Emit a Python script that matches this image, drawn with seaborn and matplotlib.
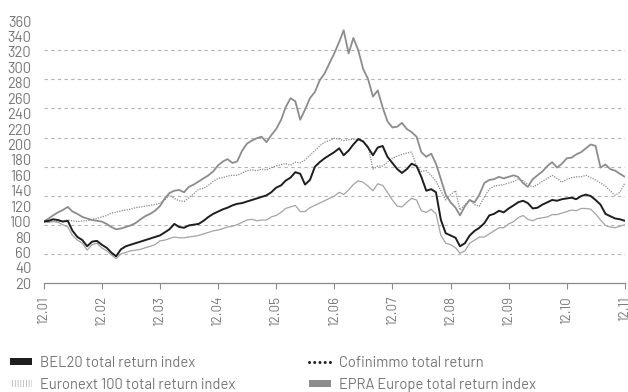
import numpy as np
import pandas as pd
import matplotlib
matplotlib.use("Agg")
import matplotlib.pyplot as plt
import seaborn as sns
from matplotlib.lines import Line2D
from matplotlib.patches import Patch
from matplotlib.ticker import FixedLocator

# Monthly index levels, December 2001 = 100, through December 2011
bel20 = [
    100, 101, 103, 102, 100, 101, 88, 80, 76, 68, 74, 75, 70,
    66, 60, 55, 64, 68, 70, 72, 74, 76, 78, 80, 82,
    86, 90, 97, 93, 92, 95, 96, 97, 101, 106, 110, 113,
    116, 118, 121, 123, 124, 126, 128, 130, 132, 134, 138, 144,
    147, 153, 157, 164, 162, 148, 154, 171, 177, 182, 186, 190,
    195, 186, 192, 200, 207, 204, 196, 186, 196, 198, 184, 176,
    168, 163, 168, 175, 172, 158, 140, 142, 138, 102, 85, 82,
    79, 68, 72, 82, 88, 92, 98, 108, 110, 114, 112, 117,
    121, 125, 127, 124, 117, 118, 122, 125, 128, 127, 129, 130,
    131, 129, 133, 135, 133, 128, 122, 110, 107, 104, 103, 101,
]
euronext100 = [
    100, 99, 100, 99, 96, 93, 82, 76, 72, 63, 70, 72, 66,
    62, 57, 52, 58, 60, 62, 63, 64, 66, 68, 70, 75,
    76, 78, 80, 79, 79, 80, 81, 82, 84, 86, 88, 89,
    91, 93, 94, 96, 99, 102, 103, 101, 102, 102, 106, 108,
    112, 117, 119, 121, 113, 113, 118, 121, 124, 127, 130, 133,
    138, 135, 141, 148, 153, 151, 146, 140, 149, 147, 138, 128,
    120, 119, 125, 130, 128, 114, 112, 116, 110, 82, 72, 70,
    66, 59, 62, 72, 76, 80, 80, 84, 88, 92, 92, 97,
    100, 105, 108, 103, 101, 104, 105, 106, 109, 109, 111, 113,
    115, 114, 117, 117, 116, 110, 102, 95, 93, 92, 94, 96,
]
cofinimmo = [
    100, 100, 101, 100, 101, 102, 101, 100, 101, 101, 103, 104, 106,
    108, 111, 112, 114, 115, 116, 118, 119, 120, 121, 122, 124,
    128, 134, 130, 127, 126, 131, 136, 142, 143, 147, 152, 156,
    157, 159, 160, 160, 163, 166, 167, 166, 168, 167, 170, 172,
    174, 175, 173, 177, 176, 180, 186, 192, 198, 203, 205, 208,
    207, 205, 206, 207, 206, 203, 198, 168, 172, 172, 177, 182,
    185, 187, 189, 190, 172, 165, 166, 160, 152, 140, 128, 135,
    140, 115, 122, 128, 122, 120, 132, 142, 146, 147, 148, 150,
    152, 155, 153, 148, 145, 148, 152, 156, 160, 156, 151, 155,
    157, 158, 158, 160, 157, 154, 150, 146, 140, 134, 138, 150,
]
epra_europe = [
    100, 104, 108, 112, 115, 119, 113, 110, 106, 104, 102, 101, 100,
    97, 93, 90, 91, 93, 95, 98, 103, 107, 110, 114, 120,
    130, 137, 140, 141, 138, 145, 148, 152, 156, 160, 165, 173,
    178, 181, 176, 178, 192, 201, 205, 208, 210, 203, 212, 220,
    232, 248, 260, 256, 232, 245, 260, 268, 283, 292, 305, 318,
    333, 348, 318, 338, 322, 298, 285, 262, 270, 248, 230, 222,
    223, 228, 220, 216, 210, 190, 184, 188, 175, 155, 135, 125,
    118, 108, 120, 128, 125, 135, 150, 154, 155, 158, 156, 158,
    160, 158, 150, 145, 155, 160, 165, 172, 177, 170, 175, 182,
    183, 187, 190, 195, 200, 198, 170, 174, 168, 166, 162, 158,
]

series_names = [
    "BEL20 total return index",
    "Euronext 100 total return index",
    "Cofinimmo total return",
    "EPRA Europe total return index",
]
tick_labels = ["12.01", "12.02", "12.03", "12.04", "12.05", "12.06",
               "12.07", "12.08", "12.09", "12.10", "12.11"]
y_labels = list(range(20, 361, 20))

dates = pd.date_range("2001-12-31", periods=len(bel20), freq="ME")
df = pd.DataFrame({
    "date": dates,
    series_names[0]: bel20,
    series_names[1]: euronext100,
    series_names[2]: cofinimmo,
    series_names[3]: epra_europe,
})

sns.set_theme(style="white")
plt.rcParams["font.family"] = ["Barlow", "DejaVu Sans"]
plt.rcParams["font.weight"] = "normal"
plt.rcParams["hatch.linewidth"] = 0.6

TEXT = "#767676"
AXIS = "#8a8a8a"

fig = plt.figure(figsize=(6.28, 3.92), dpi=100)
ax = fig.add_axes([0.0696, 0.2773, 0.9254, 0.6691])

styles = {
    series_names[1]: dict(color="#a4a4a4", lw=0.9, ls="-", z=2),
    series_names[2]: dict(color="#8a8a8a", lw=0.9, ls=(0, (1, 1)), z=3),
    series_names[3]: dict(color="#8c8c8c", lw=1.3, ls="-", z=4),
    series_names[0]: dict(color="#1e1e1e", lw=1.4, ls="-", z=5),
}
for name, st in styles.items():
    sns.lineplot(data=df, x="date", y=name, ax=ax, color=st["color"],
                 linewidth=st["lw"], linestyle=st["ls"], zorder=st["z"],
                 legend=False)

ax.set_xlim(dates[0], dates[-1])
ax.set_ylim(20, 360)
ax.set_xlabel("")
ax.set_ylabel("")

# x axis: one tick per December
xticks = [d for d in dates if d.month == 12]
ax.set_xticks(xticks)
ax.set_xticklabels(tick_labels, rotation=90, fontsize=9.6, color=TEXT)
ax.tick_params(axis="x", direction="out", length=4, width=0.8,
               color=AXIS, pad=5, bottom=True)

# y axis: labels every 20, dashed guides dividing the range into nine bands
ax.yaxis.set_major_locator(FixedLocator(y_labels))
ax.set_yticklabels([str(v) for v in y_labels], fontsize=10.6, color=TEXT)
ax.tick_params(axis="y", length=0, pad=9)
ax.yaxis.set_minor_locator(FixedLocator(np.linspace(20, 360, 10)[1:]))
ax.tick_params(axis="y", which="minor", length=0)
ax.grid(False)
ax.grid(True, axis="y", which="minor", color="#b4b4b4", linestyle=(0, (3, 3)),
        linewidth=0.8)

for side in ["top", "right", "left"]:
    ax.spines[side].set_visible(False)
ax.spines["bottom"].set_color(AXIS)
ax.spines["bottom"].set_linewidth(0.9)
ax.set_facecolor("white")

handles = [
    Patch(facecolor="#1e1e1e", edgecolor="none"),
    Patch(facecolor="white", edgecolor="#b8b8b8", hatch="||||||", linewidth=0),
    Line2D([0], [0], color="#222222", lw=2.2, ls=(0, (0.01, 1.7)),
           dash_capstyle="round"),
    Patch(facecolor="#8c8c8c", edgecolor="none"),
]
leg = fig.legend(handles, series_names, loc="upper left",
                 bbox_to_anchor=(0.016, 0.093), ncol=2, frameon=False,
                 fontsize=10.6, handlelength=1.5, handleheight=0.35,
                 handletextpad=0.55, columnspacing=5.0, labelspacing=0.55,
                 borderpad=0, borderaxespad=0, labelcolor=TEXT)

fig.savefig("out.png", dpi=100, facecolor="white")
